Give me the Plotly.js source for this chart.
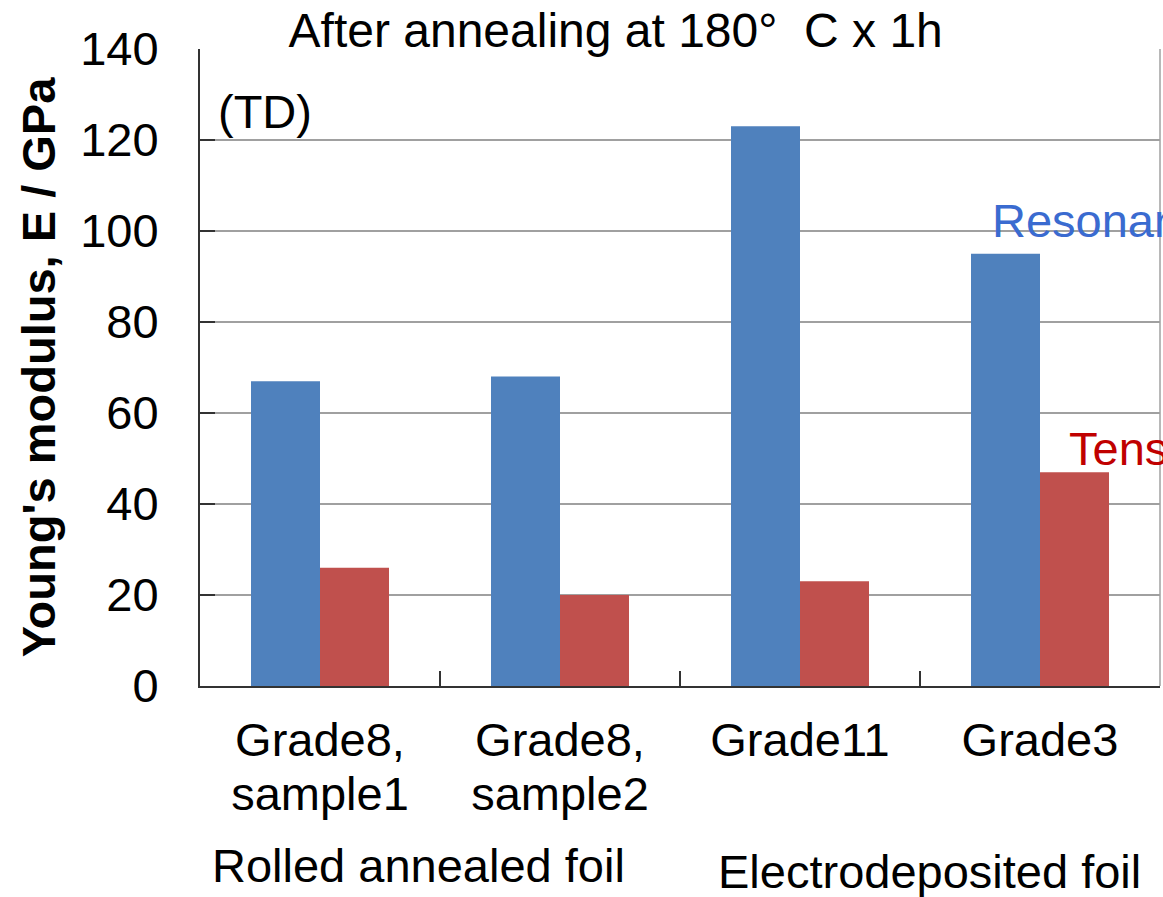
<!DOCTYPE html>
<html>
<head>
<meta charset="utf-8">
<script src="https://cdn.plot.ly/plotly-3.0.1.min.js"></script>
<style>html,body{margin:0;padding:0;background:#fff;}#chart{width:1163px;height:897px;}</style>
</head>
<body>
<div id="chart"></div>
<script>
const categories = ["Grade8,<br>sample1", "Grade8,<br>sample2", "Grade11", "Grade3"];
const resonance = [67, 68, 123, 95];
const tensile = [26, 20, 23, 47];
const yTicks = [0, 20, 40, 60, 80, 100, 120, 140];

const FONT = "Arial, 'Liberation Sans', sans-serif";
const FS = 47;

// wrap each line in a span so glyphs are 47px while line spacing follows the smaller base size
const catTickText = categories.map(c => c.split("<br>").map(l => '<span style="font-size:47px">' + l + '</span>').join("<br>"));

const traces = [
  {type: "bar", name: "Resonance", x: categories, y: resonance,
   marker: {color: "#4F81BD"}, hoverinfo: "x+y"},
  {type: "bar", name: "Tensile", x: categories, y: tensile,
   marker: {color: "#C0504D"}, hoverinfo: "x+y"}
];

const layout = {
  width: 1163, height: 897,
  margin: {l: 200, r: 3, t: 49, b: 211},
  paper_bgcolor: "#fff", plot_bgcolor: "#fff",
  showlegend: false,
  barmode: "group", bargap: 0.425, bargroupgap: 0,
  font: {family: FONT, size: FS, color: "#000"},
  title: {text: "After annealing at 180°  C x 1h", font: {family: FONT, size: 48, color: "#000"},
          xref: "paper", x: 0.433, xanchor: "center", yref: "container", y: 0.966, yanchor: "middle"},
  xaxis: {
    type: "category", range: [-0.5, 3.5],
    tickvals: categories, ticktext: catTickText,
    showline: true, linecolor: "#333", linewidth: 2,
    ticks: "inside", ticklen: 15, tickwidth: 1.5, tickcolor: "#333", tickson: "boundaries",
    showgrid: false, zeroline: false,
    tickfont: {family: FONT, size: 41, color: "#000"},
    ticklabelstandoff: 19
  },
  yaxis: {
    range: [0, 140], tickvals: yTicks, ticktext: yTicks.map(String),
    showline: true, linecolor: "#333", linewidth: 2,
    ticks: "inside", ticklen: 15, tickwidth: 1.5, tickcolor: "#333",
    showgrid: true, gridcolor: "#A0A0A0", gridwidth: 1.5, zeroline: false,
    tickfont: {family: FONT, size: FS, color: "#000"},
    ticklabelstandoff: 30,
    title: {text: "<b>Young's modulus, E / GPa</b>", font: {family: FONT, size: FS, color: "#000"}, standoff: 10}
  },
  shapes: [
    {type: "line", xref: "paper", yref: "paper", x0: 1, x1: 1, y0: 0, y1: 1,
     line: {color: "#A0A0A0", width: 1.5}}
  ],
  annotations: [
    {text: "(TD)", xref: "paper", yref: "paper", x: (265 - 200) / 960, y: (686 - 112) / 637,
     xanchor: "center", yanchor: "middle", showarrow: false, font: {family: FONT, size: FS, color: "#000"}},
    {text: "Resonance", xref: "paper", yref: "paper", x: (990 - 200) / 960, y: (686 - 220) / 637,
     xanchor: "left", yanchor: "middle", showarrow: false, font: {family: FONT, size: FS, color: "#3A6BD0"}},
    {text: "Tensile", xref: "paper", yref: "paper", x: (1067 - 200) / 960, y: (686 - 448) / 637,
     xanchor: "left", yanchor: "middle", showarrow: false, font: {family: FONT, size: FS, color: "#C00000"}},
    {text: "Rolled annealed foil", xref: "paper", yref: "paper", x: (418 - 200) / 960, y: (686 - 865) / 637,
     xanchor: "center", yanchor: "middle", showarrow: false, font: {family: FONT, size: FS, color: "#000"}},
    {text: "Electrodeposited foil", xref: "paper", yref: "paper", x: (929.5 - 200) / 960, y: (686 - 871) / 637,
     xanchor: "center", yanchor: "middle", showarrow: false, font: {family: FONT, size: FS, color: "#000"}}
  ]
};

Plotly.newPlot("chart", traces, layout, {displayModeBar: false, staticPlot: true});
</script>
</body>
</html>
